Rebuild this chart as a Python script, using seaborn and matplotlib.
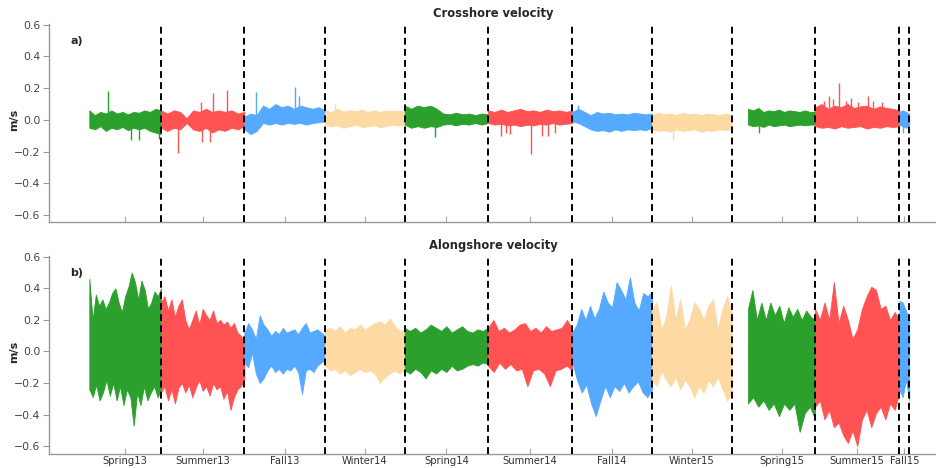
import numpy as np
import pandas as pd
import matplotlib
matplotlib.use("Agg")
import matplotlib.pyplot as plt
import seaborn as sns

# ---------------- DATA ----------------
seasons = ["Spring13", "Summer13", "Fall13", "Winter14", "Spring14", "Summer14",
           "Fall14", "Winter15", "Spring15", "Summer15", "Fall15"]
season_start = ["2013-04-02", "2013-06-21", "2013-09-22", "2013-12-21", "2014-03-20",
                "2014-06-21", "2014-09-23", "2014-12-21", "2015-04-07", "2015-06-21",
                "2015-09-23"]
season_end = ["2013-06-21", "2013-09-22", "2013-12-21", "2014-03-20", "2014-06-21",
              "2014-09-23", "2014-12-21", "2015-03-20", "2015-06-21", "2015-09-23",
              "2015-10-04"]
season_kind = ["spring", "summer", "fall", "winter", "spring", "summer",
               "fall", "winter", "spring", "summer", "fall"]
kind_colors = {"spring": "#2ca02c", "summer": "#ff5252", "fall": "#55aaff", "winter": "#fdd9a3"}

along_upper = [
    [0.46, 0.20, 0.36, 0.29, 0.33, 0.27, 0.31, 0.37, 0.40, 0.31, 0.25, 0.35, 0.41, 0.50, 0.44, 0.33, 0.45, 0.39, 0.27, 0.31, 0.38, 0.35, 0.40],
    [0.31, 0.35, 0.26, 0.33, 0.22, 0.29, 0.33, 0.20, 0.14, 0.20, 0.26, 0.17, 0.27, 0.23, 0.20, 0.26, 0.18, 0.20, 0.17, 0.19, 0.15, 0.18, 0.12, 0.10, 0.06],
    [0.12, 0.18, 0.14, 0.08, 0.23, 0.17, 0.14, 0.10, 0.13, 0.11, 0.15, 0.12, 0.13, 0.14, 0.11, 0.15, 0.18, 0.12, 0.13, 0.14, 0.12, 0.10],
    [0.14, 0.15, 0.13, 0.16, 0.12, 0.15, 0.14, 0.17, 0.14, 0.16, 0.18, 0.19, 0.17, 0.21, 0.16, 0.13, 0.14],
    [0.15, 0.13, 0.15, 0.12, 0.14, 0.17, 0.15, 0.13, 0.16, 0.12, 0.14, 0.16, 0.13, 0.12, 0.14, 0.13, 0.15],
    [0.15, 0.20, 0.13, 0.15, 0.12, 0.14, 0.17, 0.18, 0.13, 0.15, 0.12, 0.16, 0.13, 0.14, 0.15, 0.20, 0.14],
    [0.12, 0.17, 0.27, 0.20, 0.29, 0.21, 0.27, 0.38, 0.31, 0.28, 0.44, 0.39, 0.33, 0.47, 0.31, 0.26, 0.37, 0.35, 0.38],
    [0.27, 0.31, 0.14, 0.22, 0.42, 0.20, 0.33, 0.14, 0.20, 0.31, 0.27, 0.20, 0.29, 0.33, 0.14, 0.27, 0.35, 0.25],
    [0.27, 0.39, 0.20, 0.31, 0.20, 0.31, 0.23, 0.29, 0.18, 0.28, 0.22, 0.27, 0.20, 0.26, 0.22, 0.20],
    [0.27, 0.20, 0.31, 0.20, 0.44, 0.18, 0.29, 0.20, 0.08, 0.14, 0.27, 0.35, 0.41, 0.39, 0.27, 0.29, 0.20, 0.25, 0.20],
    [0.32, 0.31, 0.26, 0.20],
]
along_lower = [
    [-0.24, -0.29, -0.21, -0.31, -0.26, -0.18, -0.28, -0.20, -0.31, -0.22, -0.34, -0.24, -0.29, -0.47, -0.26, -0.34, -0.22, -0.31, -0.26, -0.22, -0.29, -0.24],
    [-0.26, -0.22, -0.31, -0.24, -0.33, -0.23, -0.20, -0.26, -0.21, -0.29, -0.23, -0.18, -0.25, -0.22, -0.28, -0.20, -0.24, -0.22, -0.30, -0.25, -0.37, -0.29, -0.24, -0.22, -0.18],
    [-0.07, -0.10, -0.01, -0.14, -0.20, -0.17, -0.12, -0.09, -0.13, -0.11, -0.14, -0.11, -0.12, -0.09, -0.13, -0.27, -0.12, -0.11, -0.13, -0.09, -0.07, -0.05],
    [-0.09, -0.12, -0.11, -0.14, -0.12, -0.15, -0.13, -0.11, -0.13, -0.12, -0.14, -0.20, -0.16, -0.14, -0.12, -0.14, -0.11],
    [-0.12, -0.14, -0.11, -0.13, -0.17, -0.12, -0.14, -0.11, -0.13, -0.09, -0.12, -0.11, -0.09, -0.08, -0.09, -0.07, -0.08],
    [-0.09, -0.13, -0.07, -0.11, -0.08, -0.12, -0.11, -0.22, -0.12, -0.11, -0.14, -0.22, -0.12, -0.11, -0.09, -0.12],
    [-0.07, -0.18, -0.26, -0.21, -0.33, -0.41, -0.31, -0.22, -0.29, -0.22, -0.25, -0.20, -0.26, -0.22, -0.19, -0.26, -0.29, -0.24],
    [-0.18, -0.22, -0.12, -0.18, -0.22, -0.16, -0.24, -0.18, -0.22, -0.29, -0.22, -0.26, -0.18, -0.22, -0.16, -0.24, -0.31, -0.26],
    [-0.33, -0.29, -0.35, -0.31, -0.37, -0.33, -0.41, -0.33, -0.37, -0.33, -0.51, -0.39, -0.35, -0.43],
    [-0.35, -0.31, -0.43, -0.37, -0.48, -0.45, -0.53, -0.58, -0.50, -0.60, -0.43, -0.37, -0.48, -0.39, -0.35, -0.43, -0.33, -0.37, -0.26],
    [-0.24, -0.29, -0.18, -0.31],
]

# crosshore velocity envelope (m/s)
cross_upper = [
    [0.06, 0.03, 0.05, 0.04, 0.06, 0.04, 0.05, 0.035, 0.05, 0.045, 0.06, 0.05, 0.07, 0.06],
    [0.06, 0.04, 0.06, 0.05, 0.01, 0.06, 0.05, 0.07, 0.05, 0.06, 0.05, 0.06, 0.04, 0.05],
    [0.02, 0.04, 0.03, 0.09, 0.07, 0.10, 0.08, 0.09, 0.07, 0.09, 0.08, 0.07, 0.08, 0.06],
    [0.06, 0.05, 0.07, 0.05, 0.06, 0.055, 0.065, 0.05, 0.06, 0.05, 0.06, 0.055, 0.06, 0.05],
    [0.09, 0.07, 0.09, 0.08, 0.09, 0.07, 0.04, 0.035, 0.045, 0.035, 0.04, 0.03, 0.04, 0.035],
    [0.06, 0.05, 0.065, 0.05, 0.06, 0.07, 0.055, 0.06, 0.05, 0.065, 0.055, 0.06, 0.05, 0.06],
    [0.05, 0.07, 0.05, 0.03, 0.05, 0.04, 0.045, 0.035, 0.04, 0.035, 0.045, 0.04, 0.035, 0.04],
    [0.03, 0.045, 0.035, 0.04, 0.03, 0.045, 0.035, 0.04, 0.03, 0.04, 0.035, 0.03, 0.04, 0.03],
    [0.07, 0.06, 0.075, 0.05, 0.06, 0.055, 0.065, 0.05, 0.06, 0.055, 0.05, 0.06, 0.05, 0.05],
    [0.08, 0.10, 0.07, 0.09, 0.08, 0.10, 0.075, 0.085, 0.09, 0.07, 0.085, 0.075, 0.07, 0.06],
    [0.05, 0.06, 0.05, 0.04],
]
cross_lower = [
    [-0.05, -0.06, -0.04, -0.07, -0.05, -0.06, -0.045, -0.065, -0.05, -0.06, -0.05, -0.07, -0.08, -0.09],
    [-0.05, -0.07, -0.05, -0.06, -0.02, -0.06, -0.07, -0.05, -0.08, -0.06, -0.07, -0.05, -0.06, -0.04],
    [-0.06, -0.09, -0.07, -0.02, -0.03, -0.02, -0.03, -0.02, -0.025, -0.02, -0.03, -0.02, -0.015, -0.01],
    [-0.03, -0.04, -0.035, -0.05, -0.04, -0.03, -0.045, -0.04, -0.035, -0.045, -0.04, -0.03, -0.035, -0.03],
    [-0.03, -0.05, -0.04, -0.05, -0.04, -0.045, -0.03, -0.025, -0.035, -0.025, -0.03, -0.02, -0.03, -0.02],
    [-0.02, -0.03, -0.025, -0.035, -0.03, -0.04, -0.03, -0.035, -0.025, -0.03, -0.02, -0.03, -0.025, -0.02],
    [-0.01, -0.02, -0.04, -0.06, -0.07, -0.065, -0.075, -0.06, -0.07, -0.06, -0.065, -0.06, -0.065, -0.05],
    [-0.06, -0.07, -0.065, -0.075, -0.06, -0.07, -0.065, -0.06, -0.075, -0.065, -0.07, -0.06, -0.065, -0.06],
    [-0.03, -0.04, -0.035, -0.045, -0.03, -0.04, -0.035, -0.03, -0.04, -0.035, -0.03, -0.035, -0.03, -0.03],
    [-0.04, -0.05, -0.045, -0.055, -0.04, -0.05, -0.045, -0.04, -0.055, -0.045, -0.05, -0.04, -0.045, -0.04],
    [-0.03, -0.04, -0.05, -0.03],
]
# isolated crosshore spikes: day since 2013-04-02, value
spike_day = [21, 47, 55, 78, 99, 125, 126, 135, 138, 154, 186, 230, 234, 274, 386, 459, 465, 470,
             493, 505, 512, 520, 545, 651, 747, 820, 826, 830, 837, 845, 850, 858, 869, 875, 885, 908]
spike_val = [0.185, -0.125, -0.125, -0.12, -0.21, 0.115, -0.14, -0.14, 0.17, 0.19, 0.175, 0.21, 0.15, 0.10,
             -0.11, -0.10, -0.08, -0.09, -0.215, -0.10, -0.10, -0.08, 0.095, -0.13, -0.08, 0.12, 0.15,
             0.13, 0.23, 0.12, 0.14, 0.11, 0.15, 0.12, 0.11, -0.08]

# ---------------- PLOT ----------------
t0 = pd.Timestamp(season_start[0])
start_d = np.array([(pd.Timestamp(s) - t0).days for s in season_start], dtype=float)
end_d = np.array([(pd.Timestamp(s) - t0).days for s in season_end], dtype=float)
mids = (start_d + end_d) / 2

sns.set_style("white")
plt.rcParams["font.family"] = ["DejaVu Sans"]

fig = plt.figure(figsize=(9.37, 4.68), dpi=100)
ax_top = fig.add_axes([0.0523, 0.5256, 0.9477, 0.4231])
ax_bot = fig.add_axes([0.0523, 0.0299, 0.9477, 0.4231])


def draw_panel(ax, upper, lower, title, tag, ylim):
    for i, kind in enumerate(season_kind):
        col = kind_colors[kind]
        xu = np.linspace(start_d[i], end_d[i], len(upper[i]))
        xl = np.linspace(start_d[i], end_d[i], len(lower[i]))
        ax.fill_between(xu, 0, upper[i], color=col, lw=0.6, edgecolor=col)
        ax.fill_between(xl, lower[i], 0, color=col, lw=0.6, edgecolor=col)
    for e in end_d:
        ax.axvline(e, color="black", ls=(0, (3.5, 2.2)), lw=1.4, zorder=5)
    ax.set_xlim(-45, 946)
    ax.set_ylim(*ylim)
    yt = [-0.6, -0.4, -0.2, 0.0, 0.2, 0.4, 0.6]
    ax.set_yticks(yt)
    ax.set_yticklabels([f"{v:.1f}".replace("-", "\u2212") for v in yt])
    ax.set_xticks(mids)
    ax.set_ylabel("m/s", fontsize=8, fontweight="bold")
    ax.yaxis.set_label_coords(-0.034, 0.516)
    ax.set_title(title, fontsize=8.3, fontweight="bold", pad=5)
    ax.text(0.024, 0.915, tag, transform=ax.transAxes, fontsize=8,
            fontweight="bold", ha="left", va="center")
    for s in ["top", "right"]:
        ax.spines[s].set_visible(False)
    for s in ["left", "bottom"]:
        ax.spines[s].set_color("#999999")
        ax.spines[s].set_linewidth(1.0)
    ax.tick_params(axis="y", direction="out", length=4, color="#999999",
                   labelcolor="#444444", labelsize=7.8, left=True, pad=2)
    ax.tick_params(axis="x", direction="in", length=4, color="#aaaaaa",
                   labelcolor="#333333", labelsize=7.2, bottom=True, pad=1.5)


draw_panel(ax_top, cross_upper, cross_lower, "Crosshore velocity", "a)", (-0.645, 0.605))
draw_panel(ax_bot, along_upper, along_lower, "Alongshore velocity", "b)", (-0.65, 0.605))

# crosshore spikes
for d, v in zip(spike_day, spike_val):
    idx = int(np.searchsorted(end_d, d))
    ax_top.vlines(d, 0, v, color=kind_colors[season_kind[idx]], lw=1.0)

ax_top.set_xticklabels([])
ax_bot.set_xticklabels(seasons)

fig.savefig("out.png", dpi=100)
